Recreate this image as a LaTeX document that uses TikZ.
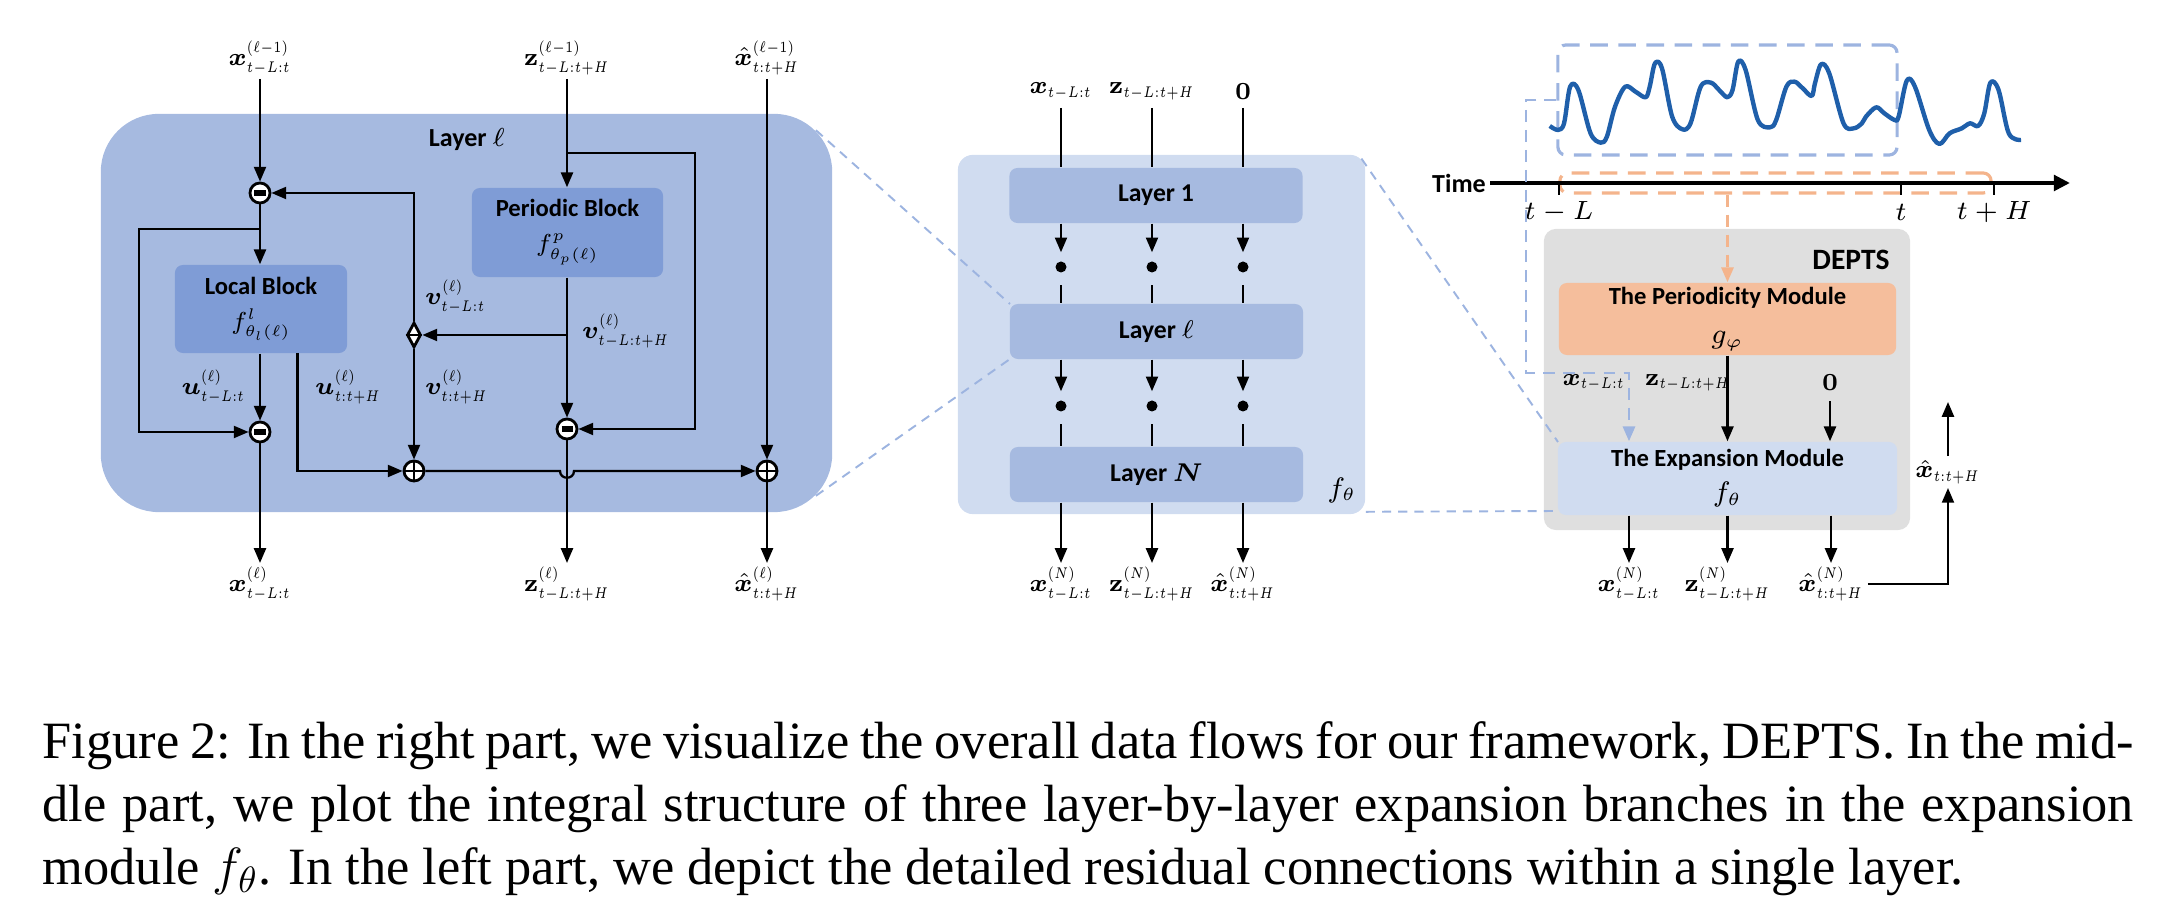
\RequirePackage{fix-cm}
\documentclass[tikz,border=0pt]{standalone}
\usepackage{amsmath}
\usepackage{bm}
\usepackage[no-math]{fontspec}
\setmainfont{Liberation Serif}
\newfontfamily\boxfont{Carlito}
\usetikzlibrary{shapes.geometric, arrows.meta, positioning}
\DeclareMathSizes{7}{7}{4.4}{3.6}
\DeclareMathSizes{8}{8}{5}{4}
% narrow scripts for the vector labels
\newcommand{\lsc}[1]{\scalebox{0.78}[1]{$\scriptstyle #1$}}

\definecolor{layerblue}{HTML}{A6BAE0}
\definecolor{blockblue}{HTML}{7F9CD6}
\definecolor{paleblue}{HTML}{D0DCF0}
\definecolor{deptsgray}{HTML}{DFDFDF}
\definecolor{peach}{HTML}{F5BE9C}
\definecolor{dashblue}{HTML}{9DB4E0}
\definecolor{dashorange}{HTML}{F4B48C}
\definecolor{seriesblue}{HTML}{1F5FAA}

\begin{document}
\begin{tikzpicture}[x=0.01cm, y=-0.01cm,
  mathlbl/.style={inner sep=1pt, font=\fontsize{7}{8.4}\selectfont},
  ticklbl/.style={inner sep=1pt, font=\fontsize{7.5}{9}\selectfont},
  panel/.style={rectangle, inner sep=0pt},
  block/.style={rectangle, rounded corners=0.08cm, inner sep=0pt, align=center,
                font=\boxfont\bfseries\fontsize{7}{9}\selectfont},
  layerbox/.style={block, fill=layerblue, minimum width=2.93cm, minimum height=0.55cm,
                   font=\boxfont\bfseries\fontsize{7.3}{9}\selectfont},
  title/.style={inner sep=1pt, font=\boxfont\bfseries\fontsize{7.4}{9}\selectfont},
  minus/.style={circle, draw, fill=white, line width=0.8pt, minimum size=0.2cm, inner sep=0pt,
    path picture={\draw[line width=1.5pt] ([xshift=-0.055cm]path picture bounding box.center)
                  -- ([xshift=0.055cm]path picture bounding box.center);}},
  plus/.style={circle, draw, fill=white, line width=0.8pt, minimum size=0.2cm, inner sep=0pt,
    path picture={\draw[line width=0.7pt] (path picture bounding box.west) -- (path picture bounding box.east)
                  (path picture bounding box.north) -- (path picture bounding box.south);}},
  split/.style={diamond, draw, fill=white, line width=0.8pt, inner sep=0pt,
                minimum width=0.14cm, minimum height=0.25cm},
  dot/.style={circle, fill=black, inner sep=0pt, minimum size=0.11cm},
  line/.style={line width=0.65pt},
  arrow/.style={-{Triangle[length=4.2pt,width=3.4pt]}, line width=0.65pt},
  zoomdash/.style={dashblue, line width=0.55pt, dash pattern=on 2.6pt off 2pt},
  pathdash/.style={dashblue, line width=0.8pt, dash pattern=on 3.4pt off 2.3pt},
  boxdash/.style={line width=0.9pt, dash pattern=on 5pt off 3pt, rounded corners=0.08cm}
]
\useasboundingbox (0,0) rectangle (2174,898);

% ---------------- left part: a single layer ----------------
\node[panel, fill=layerblue, rounded corners=0.58cm, minimum width=7.31cm, minimum height=3.98cm] (lbg) at (466.5,313) {};
\node[title] (lbgtitle) at (467,140) {Layer $\ell$};

\node[mathlbl, anchor=south] (xin) at (260,79) {$\bm{x}^{\lsc{(\ell-1)}}_{\lsc{t-L:t}}$};
\node[mathlbl, anchor=south] (zin) at (567,79) {$\mathbf{z}^{\lsc{(\ell-1)}}_{\lsc{t-L:t+H}}$};
\node[mathlbl, anchor=south] (xhin) at (767,79) {$\hat{\bm{x}}^{\lsc{(\ell-1)}}_{\lsc{t:t+H}}$};

\node[minus] (m1) at (260,193) {};
\node[block, fill=blockblue, minimum width=1.72cm, minimum height=0.88cm] (local) at (261,309)
  {Local Block\\[1pt]$f^{l}_{\theta_l(\ell)}$};
\node[block, fill=blockblue, minimum width=1.91cm, minimum height=0.89cm] (periodic) at (567.5,232.5)
  {Periodic Block\\[1pt]$f^{p}_{\theta_p(\ell)}$};
\node[split] (dia) at (414,335) {};
\node[minus] (m2) at (260,432) {};
\node[minus] (m3) at (567,429) {};
\node[plus] (p1) at (414,471) {};
\node[plus] (p2) at (767,471) {};

\node[mathlbl, anchor=east] (ushort) at (250,387) {$\bm{u}^{\lsc{(\ell)}}_{\lsc{t-L:t}}$};
\node[mathlbl, anchor=west] (ulong) at (311,387) {$\bm{u}^{\lsc{(\ell)}}_{\lsc{t:t+H}}$};
\node[mathlbl, anchor=west] (vshort) at (421,297) {$\bm{v}^{\lsc{(\ell)}}_{\lsc{t-L:t}}$};
\node[mathlbl, anchor=west] (vfut) at (421,387) {$\bm{v}^{\lsc{(\ell)}}_{\lsc{t:t+H}}$};
\node[mathlbl, anchor=west] (vlong) at (578,331) {$\bm{v}^{\lsc{(\ell)}}_{\lsc{t-L:t+H}}$};

\node[mathlbl, anchor=north] (xout) at (260,563) {$\bm{x}^{\lsc{(\ell)}}_{\lsc{t-L:t}}$};
\node[mathlbl, anchor=north] (zout) at (567,563) {$\mathbf{z}^{\lsc{(\ell)}}_{\lsc{t-L:t+H}}$};
\node[mathlbl, anchor=north] (xhout) at (767,563) {$\hat{\bm{x}}^{\lsc{(\ell)}}_{\lsc{t:t+H}}$};

\coordinate (xbr) at (260,229);
\coordinate (xcorner) at (139,229);
\coordinate (zbr) at (567,153);
\coordinate (zcorner) at (695,153);
\coordinate (vbr) at (567,335);
\coordinate (uout) at (297.5,353);
\coordinate (jumpL) at (560,471);
\coordinate (jumpR) at (574,471);

\draw[arrow] (xin) -- (m1);
\draw[arrow] (m1) -- (local.north -| m1);
\draw[arrow] (xbr) -- (xcorner) |- (m2);
\draw[arrow] (local.south -| m2) -- (m2);
\draw[arrow] (m2) -- (xout);
\draw[arrow] (uout) |- (p1);
\draw[arrow] (dia.north) |- (m1);
\draw[arrow] (dia) -- (p1);
\draw[arrow] (vbr) -- (dia);
\draw[arrow] (zin) -- (periodic.north -| zin);
\draw[arrow] (zbr) -- (zcorner) |- (m3);
\draw[arrow] (periodic.south -| m3) -- (m3);
\draw[arrow] (m3) -- (zout);
\draw[line] (dia.west) -- (dia.east);
\draw[arrow] (p1) -- (jumpL) .. controls (560,480) and (574,480) .. (jumpR) -- (p2);
\draw[arrow] (xhin) -- (p2);
\draw[arrow] (p2) -- (xhout);

% ---------------- middle part: the expansion module ----------------
\node[panel, fill=paleblue, rounded corners=0.15cm, minimum width=4.07cm, minimum height=3.59cm] (midbg) at (1161.5,334.5) {};

\draw[zoomdash] ([xshift=-0.17cm, yshift=-0.17cm]lbg.north east) -- (1010,304);
\draw[zoomdash] ([xshift=-0.17cm, yshift=0.17cm]lbg.south east) -- (1010,359);

\node[layerbox] (L1) at (1156,195.5) {Layer 1};
\node[layerbox] (Ll) at (1156.5,331.5) {Layer $\ell$};
\node[layerbox] (LN) at (1156.5,474.5) {Layer $\bm{N}$};
\node[mathlbl, font=\fontsize{8}{9}\selectfont] (ftheta) at (1342,490) {$f_\theta$};

\foreach \i/\x/\top/\bot in {1/1061/{\bm{x}_{\lsc{t-L:t}}}/{\bm{x}^{\lsc{(N)}}_{\lsc{t-L:t}}},
                             2/1152/{\mathbf{z}_{\lsc{t-L:t+H}}}/{\mathbf{z}^{\lsc{(N)}}_{\lsc{t-L:t+H}}},
                             3/1243/{\mathbf{0}}/{\hat{\bm{x}}^{\lsc{(N)}}_{\lsc{t:t+H}}}} {
  \node[mathlbl, anchor=south] (in\i) at (\x,104) {$\top$};
  \node[dot] (da\i) at (\x,267) {};
  \node[dot] (db\i) at (\x,406) {};
  \node[mathlbl, anchor=north] (out\i) at (\x,563) {$\bot$};
  \draw[line] (in\i.south |- 0,108) -- (L1.north -| in\i);
  \draw[arrow, shorten >=0.085cm] (L1.south -| da\i) -- (da\i);
  \draw[line, shorten <=0.12cm] (da\i) -- (Ll.north -| da\i);
  \draw[arrow, shorten >=0.085cm] (Ll.south -| db\i) -- (db\i);
  \draw[line, shorten <=0.12cm] (db\i) -- (LN.north -| db\i);
  \draw[arrow] (LN.south -| out\i) -- (out\i);
}

% ---------------- right part: DEPTS ----------------
\node[panel, fill=deptsgray, rounded corners=0.12cm, minimum width=3.66cm, minimum height=3.01cm] (depts) at (1727,379.5) {};
\node[title, font=\boxfont\bfseries\fontsize{8.4}{10}\selectfont] (deptstitle) at (1851,260) {DEPTS};

\draw[zoomdash] ([xshift=-0.044cm, yshift=-0.044cm]midbg.north east) -- (1558,442);
\draw[zoomdash] ([yshift=0.03cm]midbg.south east) -- (1558,511);

\node[block, fill=peach, minimum width=3.37cm, minimum height=0.72cm] (pm) at (1727.5,319)
  {The Periodicity Module\\[2pt]{\fontsize{8}{9}\selectfont$g_\varphi$}};
\node[block, fill=paleblue, minimum width=3.39cm, minimum height=0.73cm] (em) at (1727.5,478.5)
  {The Expansion Module\\[1pt]{\fontsize{8}{9}\selectfont$f_\theta$}};

% time axis and the series
\node[panel, boxdash, draw=dashorange, minimum width=4.31cm, minimum height=0.2cm] (horizon) at (1775.5,183) {};
\node[title] (timelbl) at (1459,183) {Time};
\draw[line width=1.4pt, -{Triangle[length=4.6pt,width=4.4pt]}] (timelbl.east) -- (2070,183);
\foreach \tx/\tl in {1559/{t-L}, 1901/{t}, 1994/{t+H}} {
  \draw[line width=0.8pt] (\tx,183) -- (\tx,195);
  \node[ticklbl] at (\tx,212) {$\tl$};
}
\node[panel, boxdash, draw=dashblue, minimum width=3.39cm, minimum height=1.1cm] (win) at (1727.5,100) {};
\begin{scope}[shift={(1460,20)}, xscale=0.408, yscale=0.3333]
\draw[seriesblue, line width=1.25pt, line join=round] plot[smooth, tension=0.55] coordinates {
  (220,318) (240,330) (255,310) (270,200) (290,210) (320,340) (345,368) (360,350)
  (380,260) (405,200) (430,215) (455,232) (465,200) (478,130) (495,145) (520,290)
  (545,328) (565,310) (590,200) (615,188) (635,210) (655,232) (668,210) (682,125)
  (700,150) (730,300) (760,322) (775,300) (800,200) (820,185) (840,205) (862,228)
  (870,190) (885,133) (905,160) (940,310) (965,325) (985,310) (995,290) (1020,262)
  (1040,280) (1065,300) (1075,290) (1095,182) (1115,200) (1150,330) (1175,372)
  (1200,340) (1230,325) (1250,310) (1270,318) (1285,280) (1300,188) (1320,210)
  (1345,340) (1375,360)};
\end{scope}

\node[mathlbl] (xr) at (1594,383) {$\bm{x}_{\lsc{t-L:t}}$};
\node[mathlbl, anchor=west] (zr) at (1641,383) {$\mathbf{z}_{\lsc{t-L:t+H}}$};
\node[mathlbl] (zero) at (1830,383) {$\mathbf{0}$};

\node[mathlbl, anchor=north] (rout1) at (1629,563) {$\bm{x}^{\lsc{(N)}}_{\lsc{t-L:t}}$};
\node[mathlbl, anchor=north] (rout2) at (1727.5,563) {$\mathbf{z}^{\lsc{(N)}}_{\lsc{t-L:t+H}}$};
\node[mathlbl, anchor=north] (rout3) at (1831,563) {$\hat{\bm{x}}^{\lsc{(N)}}_{\lsc{t:t+H}}$};
\node[mathlbl] (xhat) at (1948,472) {$\hat{\bm{x}}_{\lsc{t:t+H}}$};
\coordinate (bd1) at (1526,100);
\coordinate (bd2) at (1526,373);
\coordinate (xhtop) at (1948,402);

\draw[pathdash, -{Triangle[length=4.2pt,width=3.4pt]}] (win.west) -- (bd1) -- (bd2) -| (em.north -| rout1);
\draw[dashorange, line width=0.8pt, dash pattern=on 3.4pt off 2.3pt, -{Triangle[length=4.2pt,width=3.4pt]}]
  (horizon.south -| pm.north) -- (pm.north);
\draw[arrow] (pm) -- (em);
\draw[arrow, shorten <=0.06cm] (zero) -- (zero |- em.north);
\foreach \i in {1,2,3} {
  \draw[arrow] (em.south -| rout\i) -- (rout\i);
}
\draw[arrow] (rout3.east) -| (xhat.south);
\draw[arrow] (xhat.north) -- (xhtop);

% ---------------- caption ----------------
\node[anchor=north west, inner sep=0pt, text width=20.9cm, align=justify,
      font=\fontsize{14.9}{17.9}\selectfont] (caption) at (42,721)
  {Figure 2: In the right part, we visualize the overall data flows for our framework, DEPTS. In the mid-\linebreak
   dle part, we plot the integral structure of three layer-by-layer expansion branches in the expansion\linebreak
   module $f_\theta$. In the left part, we depict the detailed residual connections within a single layer.};
\end{tikzpicture}
\end{document}
